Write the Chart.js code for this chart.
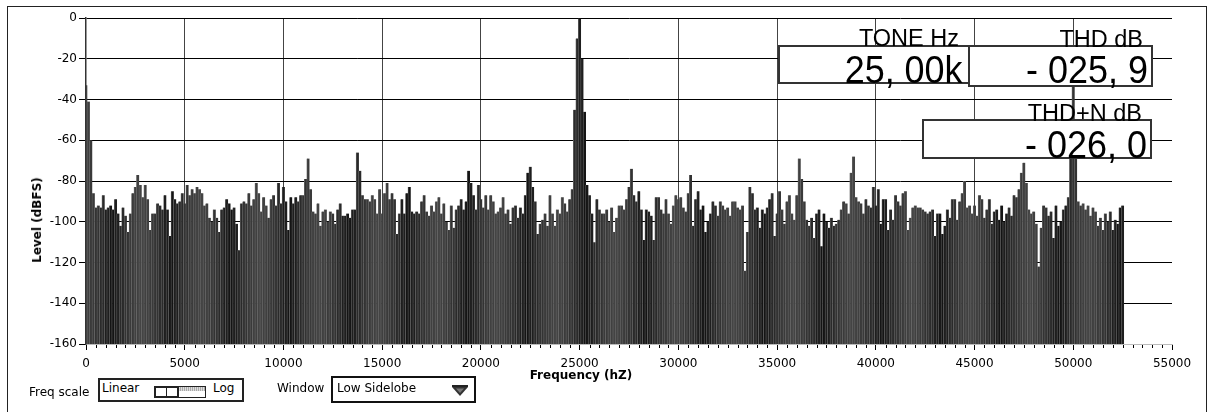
<!DOCTYPE html>
<html>
<head>
<meta charset="utf-8">
<title>Spectrum</title>
<script src="https://cdn.jsdelivr.net/npm/chart.js@4.4.0/dist/chart.umd.min.js"></script>
<style>
  body { margin: 0; background: #fff; }
  #wrap { position: relative; width: 1214px; height: 412px; overflow: hidden; font-family: "DejaVu Sans", sans-serif; color: #000; }
  #frame { position: absolute; left: 7px; top: 6px; width: 1200px; height: 440px; border: 1px solid #222; box-sizing: border-box; }
  canvas { position: absolute; left: 0; top: 0; }
  .t { position: absolute; line-height: 1; white-space: nowrap; font-size: 12px; }
  .axis-title { font-weight: bold; }
  .box { position: absolute; box-sizing: border-box; border: 2px solid #333; background: #fff; }
  .ind-lbl { position: absolute; line-height: 1; white-space: nowrap; font-family: "Liberation Sans", Arial, sans-serif; font-size: 23.5px; }
  .ind-num { position: absolute; line-height: 1; white-space: nowrap; font-family: "Liberation Sans", Arial, sans-serif; font-size: 39.5px; transform: scaleX(0.91); transform-origin: right center; }
</style>
</head>
<body>
<div id="wrap">
  <div id="frame"></div>
  <canvas id="spectrum" width="1214" height="412"></canvas>

  <div class="t axis-title" style="left:37px; top:220px; transform: translate(-50%,-50%) rotate(-90deg);">Level (dBFS)</div>
  <div class="t axis-title" style="left:581px; top:375px; transform: translate(-50%,-50%);">Frequency (hZ)</div>

  <!-- indicators -->
  <div class="box" style="left:778px; top:45px; width:192px; height:39px;"></div>
  <div class="box" style="left:968px; top:45px; width:185px; height:42px;"></div>
  <div class="box" style="left:922px; top:119px; width:230px; height:40px;"></div>
  <div class="ind-lbl" style="right:255px; top:27px;">TONE Hz</div>
  <div class="ind-lbl" style="right:71px; top:27.5px;">THD dB</div>
  <div class="ind-lbl" style="right:72px; top:102px;">THD+N dB</div>
  <div class="ind-num" style="right:251px; top:50px;">25, 00k</div>
  <div class="ind-num" style="right:66px; top:50px;">- 025, 9</div>
  <div class="ind-num" style="right:67px; top:125px;">- 026, 0</div>

  <!-- controls -->
  <div class="t" style="left:29px; top:386px;">Freq scale</div>
  <div class="box" style="left:98px; top:378px; width:146px; height:24px; border-color:#222;"></div>
  <div class="t" style="left:102px; top:382px;">Linear</div>
  <div class="t" style="left:213px; top:382px;">Log</div>
  <div style="position:absolute; left:154px; top:386px; width:52px; height:12px; border:1px solid #222; box-sizing:border-box; background:#fff;">
    <div style="position:absolute; left:23px; top:0; width:27px; height:4px; background: repeating-linear-gradient(90deg, #aaa 0 1px, #ddd 1px 2px);"></div>
    <div style="position:absolute; left:-1px; top:-1px; width:25px; height:12px; border:2px solid #222; box-sizing:border-box;"></div>
    <div style="position:absolute; left:11px; top:0; width:1px; height:10px; background:#222;"></div>
  </div>
  <div class="t" style="left:277px; top:382px;">Window</div>
  <div class="box" style="left:331px; top:376px; width:145px; height:27px; border-color:#111;"></div>
  <div class="t" style="left:337px; top:382px;">Low Sidelobe</div>
  <svg style="position:absolute; left:451px; top:384px;" width="18" height="13">
    <rect x="1" y="1" width="16" height="2" fill="#222"/>
    <polygon points="1,3 17,3 9,12" fill="#333"/>
    <polygon points="5,4.5 13,4.5 9,9" fill="#777"/>
  </svg>
</div>

<script>
// spectrum bins, 125 Hz apart (dBFS)
var BIN_HZ = 125;
var levels = [
  -33, -41, -60, -86, -93, -92, -93, -87, -94, -93, -92, -94, -89, -96, -102, -93, -97, -105, -96, -86,
  -83, -77, -82, -88, -82, -89, -104, -96, -96, -91, -92, -94, -87, -94, -107, -85, -89, -91, -90, -86,
  -91, -82, -87, -84, -86, -83, -84, -86, -92, -91, -98, -100, -94, -98, -105, -94, -93, -89, -91, -94,
  -93, -101, -114, -91, -90, -91, -86, -92, -89, -81, -86, -95, -88, -92, -98, -89, -87, -92, -81, -91,
  -83, -90, -104, -88, -91, -88, -90, -87, -87, -79, -69, -84, -95, -96, -91, -102, -95, -94, -100, -95,
  -96, -101, -94, -91, -97, -97, -96, -98, -94, -94, -66, -75, -87, -89, -89, -90, -87, -89, -96, -84,
  -96, -86, -81, -89, -86, -89, -106, -96, -89, -96, -86, -83, -95, -96, -95, -96, -90, -87, -95, -97,
  -92, -95, -90, -88, -96, -91, -100, -104, -92, -103, -94, -92, -89, -94, -90, -75, -81, -87, -94, -82,
  -89, -93, -87, -94, -87, -90, -96, -95, -93, -88, -96, -94, -101, -93, -92, -98, -93, -96, -87, -76,
  -73, -83, -90, -106, -101, -99, -96, -102, -87, -96, -102, -94, -96, -88, -91, -95, -89, -84, -45, -10,
  0, -20, -46, -82, -87, -96, -110, -89, -94, -96, -96, -94, -100, -93, -105, -98, -92, -92, -94, -89,
  -83, -74, -87, -90, -85, -94, -109, -94, -95, -97, -109, -88, -88, -94, -96, -89, -96, -101, -92, -87,
  -89, -88, -93, -95, -86, -77, -102, -89, -85, -94, -92, -105, -100, -96, -90, -92, -97, -90, -92, -94,
  -93, -97, -90, -90, -93, -94, -92, -124, -105, -83, -86, -94, -93, -103, -94, -96, -93, -89, -86, -107,
  -96, -85, -94, -101, -90, -87, -96, -99, -87, -69, -79, -90, -99, -102, -98, -108, -96, -94, -112, -96,
  -100, -103, -98, -102, -101, -99, -94, -90, -91, -96, -76, -68, -88, -90, -91, -96, -89, -92, -93, -83,
  -92, -84, -101, -89, -89, -104, -94, -99, -87, -90, -92, -86, -85, -104, -98, -93, -92, -93, -93, -94,
  -95, -96, -95, -94, -107, -96, -96, -106, -102, -94, -98, -89, -89, -99, -90, -86, -80, -93, -92, -96,
  -92, -97, -87, -89, -98, -94, -89, -101, -95, -94, -99, -92, -100, -96, -93, -97, -87, -88, -84, -76,
  -71, -81, -94, -96, -95, -101, -122, -103, -92, -93, -97, -95, -108, -92, -102, -100, -94, -92, -88, -62,
  -26, -60, -90, -92, -91, -94, -92, -97, -93, -95, -102, -98, -104, -96, -100, -95, -104, -99, -101, -93,
  -92
];
var freqs = levels.map(function (_, i) { return i * BIN_HZ; });

var xTicks = [0, 5000, 10000, 15000, 20000, 25000, 30000, 35000, 40000, 45000, 50000, 55000];
var yTicks = [0, -20, -40, -60, -80, -100, -120, -140, -160];
var FLOOR = -160;
var MINOR_HZ = 500;

// shading of the bar forest (moire look of the original)
var SHADES = ['#404040', '#3a3a3a', '#333333', '#2a2a2a', '#1e1e1e', '#141414', '#1e1e1e', '#2a2a2a', '#333333', '#3a3a3a', '#404040', '#444444'];

function tickValue(c) {
  return (c && c.tick) ? c.tick.value : null;
}

var minorTicks = {
  id: 'minorTicks',
  afterDraw: function (chart) {
    var ctx = chart.ctx, x = chart.scales.x, bottom = chart.chartArea.bottom;
    ctx.save();
    ctx.strokeStyle = '#000';
    ctx.lineWidth = 1;
    for (var f = 0; f <= 55000; f += MINOR_HZ) {
      if (xTicks.indexOf(f) >= 0) continue;
      var px = Math.round(x.getPixelForValue(f)) + 0.5;
      ctx.beginPath();
      ctx.moveTo(px, bottom + 1);
      ctx.lineTo(px, bottom + 4);
      ctx.stroke();
    }
    ctx.restore();
  }
};

var spectrum = document.getElementById('spectrum').getContext('2d');
var spectrumChart = new Chart(spectrum, {
  type: 'bar',
  data: {
    datasets: [{
      data: freqs.map(function (f, i) { return { x: f, y: [FLOOR, levels[i]] }; }),
      backgroundColor: function (c) { return SHADES[Math.floor(c.dataIndex / 2) % SHADES.length]; },
      borderColor: '#6c6c6c',
      borderWidth: { left: 0.7, right: 0, top: 0, bottom: 0 },
      borderSkipped: false,
      inflateAmount: 0.3,
      barPercentage: 1.15,
      categoryPercentage: 1.0,
      grouped: false,
      clip: 0
    }]
  },
  plugins: [minorTicks],
  options: {
    responsive: false,
    animation: false,
    layout: { padding: { left: 0, top: 18, right: 42, bottom: 0 } },
    plugins: {
      legend: { display: false },
      tooltip: { enabled: false }
    },
    scales: {
      x: {
        type: 'linear',
        min: 0,
        max: 55000,
        offset: false,
        z: 1,
        afterBuildTicks: function (s) { s.ticks = xTicks.map(function (v) { return { value: v }; }); },
        afterFit: function (s) { s.height = 68; s.paddingLeft = 0; s.paddingRight = 0; },
        ticks: {
          autoSkip: false,
          maxRotation: 0,
          padding: 7,
          color: '#000',
          font: { family: 'DejaVu Sans', size: 12 },
          callback: function (v) { return String(v); }
        },
        grid: {
          offset: false,
          color: function (c) {
            var v = tickValue(c);
            return (v === 0 || v === 55000) ? 'rgba(0,0,0,0)' : '#444';
          },
          tickColor: '#000',
          tickLength: 6
        },
        border: { color: '#bbb', width: 1 }
      },
      y: {
        min: FLOOR,
        max: 0,
        z: 1,
        afterBuildTicks: function (s) { s.ticks = yTicks.map(function (v) { return { value: v }; }); },
        afterFit: function (s) { s.width = 86; s.paddingTop = 0; s.paddingBottom = 0; },
        ticks: {
          padding: 2,
          color: '#000',
          font: { family: 'DejaVu Sans', size: 12 },
          callback: function (v) { return String(v); }
        },
        grid: {
          color: function (c) { return tickValue(c) === FLOOR ? 'rgba(0,0,0,0)' : '#000'; },
          tickColor: '#000',
          tickLength: 7
        },
        border: { color: '#333', width: 1.5 }
      }
    }
  }
});
</script>
</body>
</html>
